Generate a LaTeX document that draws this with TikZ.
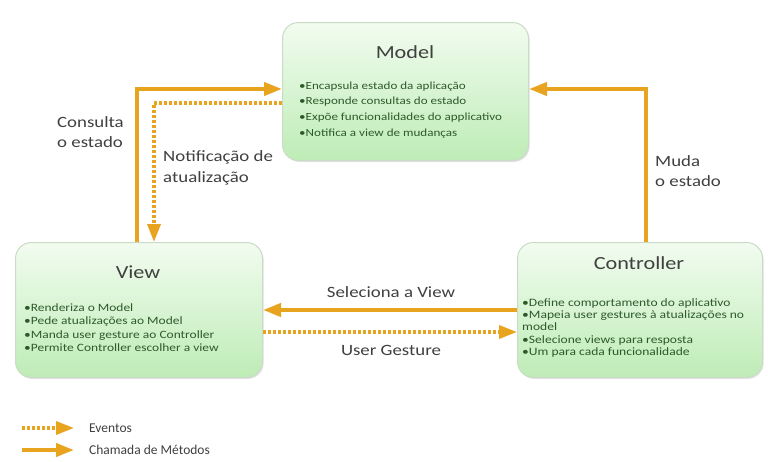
\documentclass[tikz,border=0pt]{standalone}
\usepackage{fontspec}
\setmainfont{Carlito}
\newfontfamily\widefont{Carlito}[FakeStretch=1.2]
\usetikzlibrary{arrows.meta,shadows,calc}

\definecolor{flow}{HTML}{E8A41E}
\definecolor{boxtop}{HTML}{F2FCF0}
\definecolor{boxbot}{HTML}{BEECB6}
\definecolor{boxline}{HTML}{CADCC7}
\definecolor{bullettext}{HTML}{2E5A2B}
\definecolor{labeltext}{HTML}{404040}

\tikzset{
  panel/.style={rounded corners=16pt, draw=boxline, line width=1pt,
    top color=boxtop, bottom color=boxbot, anchor=north west, inner sep=0pt,
    drop shadow={shadow xshift=1.2pt, shadow yshift=-1.5pt, opacity=0.22}},
  paneltitle/.style={text=labeltext, font=\widefont\fontsize{18.5}{22}\selectfont, anchor=center},
  bullets/.style={text=bullettext, font=\widefont\fontsize{11.2}{13.3}\selectfont,
    align=left, anchor=north west, inner sep=0pt},
  flowlabel/.style={text=labeltext, font=\widefont\fontsize{15.7}{20}\selectfont,
    align=left, inner sep=0pt},
  legendlabel/.style={text=labeltext, font=\fontsize{13.5}{16}\selectfont,
    anchor=west, inner sep=0pt},
  call/.style={draw=flow, line width=4pt, -{Triangle[length=18pt,width=13pt]}},
  event/.style={draw=flow, line width=3.5pt, dash pattern=on 3pt off 2pt,
    -{Triangle[length=18pt,width=13pt]}},
}

\begin{document}
\begin{tikzpicture}[x=1pt, y=-1pt]
  \useasboundingbox[fill=white] (0,0) rectangle (768,461);

  % the three components
  \node[panel, minimum width=246pt, minimum height=138pt] (model) at (282,22) {};
  \node[panel, minimum width=247pt, minimum height=135pt] (view) at (15,242) {};
  \node[panel, minimum width=245pt, minimum height=135pt] (ctrl) at (517,242) {};

  \node[paneltitle] (modeltitle) at (405,52) {Model};
  \node[paneltitle] (viewtitle) at (138,272) {View};
  \node[paneltitle] (ctrltitle) at (639,263) {Controller};

  \node[bullets, font=\widefont\fontsize{10.9}{15.6}\selectfont] (modeltext) at (299,81.5) {%
    •Encapsula estado da aplicação\\
    •Responde consultas do estado\\
    •Expõe funcionalidades do applicativo\\
    •Notifica a view de mudanças};
  \node[bullets] (viewtext) at (24,303.5) {%
    •Renderiza o Model\\
    •Pede atualizações ao Model\\
    •Manda user gesture ao Controller\\
    •Permite Controller escolher a view};
  \node[bullets, font=\widefont\fontsize{11.3}{12.2}\selectfont] (ctrltext) at (522,298.5) {%
    •Define comportamento do aplicativo\\
    •Mapeia user gestures à atualizações no\\
    model\\
    •Selecione views para resposta\\
    •Um para cada funcionalidade};

  % bend points of the routed connectors
  \coordinate (queryrow) at (137,89);
  \coordinate (notifyrow) at (154,103);
  \coordinate (changerow) at (646,89);
  \coordinate (selectrow) at (0,310);
  \coordinate (gesturerow) at (0,332);

  % method calls and events
  \draw[call] (view.north -| queryrow) |- (model.west |- queryrow);
  \draw[event] (model.west |- notifyrow) -| (view.north -| notifyrow);
  \draw[call] (ctrl.north -| changerow) |- (model.east |- changerow);
  \draw[call] (ctrl.west |- selectrow) -- (view.east |- selectrow);
  \draw[event] (view.east |- gesturerow) -- (ctrl.west |- gesturerow);

  % connector labels
  \node[flowlabel, anchor=west] (querylabel) at (57,132.5) {Consulta\\o estado};
  \node[flowlabel, anchor=west, font=\widefont\fontsize{15.7}{21}\selectfont] (notifylabel) at (163,168) {Notificação de\\atualização};
  \node[flowlabel, anchor=west] (changelabel) at (655,171) {Muda\\o estado};
  \node[flowlabel, anchor=center] (selectlabel) at (391,292) {Seleciona a View};
  \node[flowlabel, anchor=center] (gesturelabel) at (391,350) {User Gesture};

  % legend
  \coordinate (evstart) at (22,428);
  \coordinate (evend) at (74,428);
  \coordinate (mcstart) at (22,450);
  \coordinate (mcend) at (74,450);
  \draw[event] (evstart) -- (evend);
  \draw[call] (mcstart) -- (mcend);
  \node[legendlabel] (evlabel) at (89,428) {Eventos};
  \node[legendlabel] (mclabel) at (89,450) {Chamada de Métodos};
\end{tikzpicture}
\end{document}
